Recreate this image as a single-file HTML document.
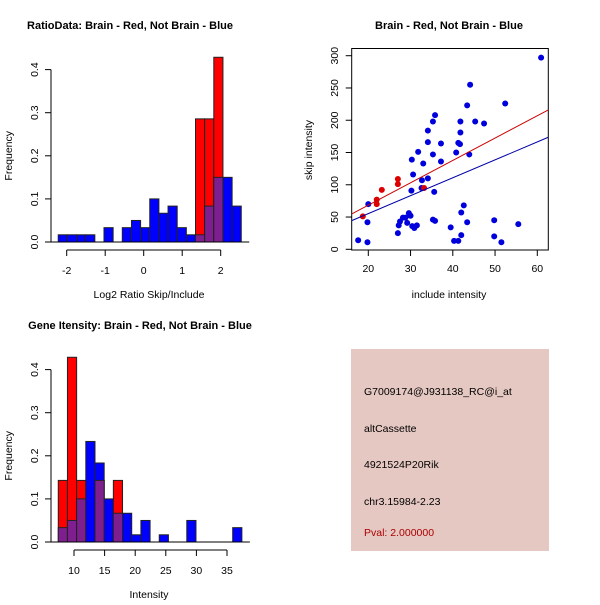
<!DOCTYPE html>
<html><head><meta charset="utf-8"><style>
html,body{margin:0;padding:0;background:#fff}
svg text{font-family:"Liberation Sans",sans-serif}
</style></head><body>
<svg id="c" width="600" height="600" xmlns="http://www.w3.org/2000/svg">
<rect width="600" height="600" fill="#fff"/>
</svg>
<script>
// Panel 1: ratio histogram
const ratioBinStart = -2.22, ratioBinWidth = 0.2377;
const ratioBlue = [0.0167,0.0167,0.0167,0.0167,0,0.0333,0,0.0333,0.05,0.0333,0.1,0.0667,0.0833,0.0333,0.0167,0.0167,0.0833,0.15,0.15,0.0833];
const ratioRed  = [0,0,0,0,0,0,0,0,0,0,0,0,0,0,0,0.2857,0.2857,0.4286,0,0];
const ratioXTicks = [-2,-1,0,1,2];
const freqTicks = [0,0.1,0.2,0.3,0.4];
// Panel 3: intensity histogram
const intBinStart = 7.43, intBinWidth = 1.5;
const intBlue = [0.0333,0.05,0.1,0.2333,0.1833,0.1,0.0667,0.0667,0.0167,0.05,0,0.0167,0,0,0.05,0,0,0,0,0.0333];
const intRed  = [0.1429,0.4286,0.1429,0,0.1429,0,0.1429,0,0,0,0,0,0,0,0,0,0,0,0,0];
const intXTicks = [10,15,20,25,30,35];
// Panel 2: scatter
const blueX = [17.6,19.8,19.8,20,27,27.2,27.5,28.2,28.8,29.2,29.6,30,30.4,30.9,31.5,30.2,30.3,30.6,31.8,33,32.6,32.7,34.1,34.1,34.1,35.3,35.3,35.6,35.8,35.3,35.8,37.2,37.2,39.5,40.3,41.3,40.8,41.3,41.7,41.8,41.8,42,42,42.6,43.4,44.1,43.4,43.9,45.3,47.4,49.8,49.8,51.5,52.4,55.5,60.9];
const blueY = [14,11,42,70,25,37,43,49,49,41,56,52,36,33,37,91,139,116,151,133,95,107,110,184,166,147,198,89,208,46,44,164,136,34,13,13,150,165,163,198,181,57,22,68,42,255,223,147,198,195,45,20,11,226,39,297];
const redX = [18.7,22,22,23.2,27,27,33.2];
const redY = [51,77,70,92,109,101,95];
const redFit = [-0.83,3.464];   // intercept, slope
const blueFit = [-0.18,2.776];
const scXTicks = [20,30,40,50,60];
const scYTicks = [0,50,100,150,200,250,300];
const infoLines = ["G7009174@J931138_RC@i_at","altCassette","4921524P20Rik","chr3.15984-2.23"];
const pvalText = "Pval: 2.000000";

const svg = document.getElementById('c');
const NS = 'http://www.w3.org/2000/svg';
const FS = 10.5;
function mk(tag, attrs, parent){const e=document.createElementNS(NS,tag);for(const k in attrs)e.setAttribute(k,attrs[k]);(parent||svg).appendChild(e);return e;}
function txt(s,attrs,parent){const e=mk('text',attrs,parent);e.textContent=s;return e;}

function hist(g, binStart, binW, blue, red, xTicks, xmap, ymap, xlab, title, titleX){
  const y0 = ymap(0);
  for(let i=0;i<blue.length;i++){
    const x1=xmap(binStart+i*binW), x2=xmap(binStart+(i+1)*binW);
    const b=blue[i], r=red[i];
    if(r>0){const e=mk('rect',{x:x1,y:ymap(r),width:x2-x1,height:y0-ymap(r),fill:'#ff0000',stroke:'#222','stroke-width':1},g);
      
      }
    if(b>0){
      if(b>(r||0)){const e=mk('rect',{x:x1,y:ymap(b),width:x2-x1,height:y0-ymap(b),fill:'#0000ff',stroke:'#222','stroke-width':1},g);
        
        }
      if(r>0){const m=Math.min(b,r);const e=mk('rect',{x:x1,y:ymap(m),width:x2-x1,height:y0-ymap(m),fill:'#7f1f8f',stroke:'#222','stroke-width':1},g);
        
        }
    }
  }
  const ya=mk('g',{},g);
  
  
  mk('line',{x1:51,x2:51,y1:ymap(0),y2:ymap(0.4),stroke:'#000'},ya);
  freqTicks.forEach(t=>{mk('line',{x1:45,x2:51,y1:ymap(t),y2:ymap(t),stroke:'#000'},ya);
    txt(t.toFixed(1),{x:38,y:ymap(t),'font-size':FS,'text-anchor':'middle',transform:`rotate(-90 38 ${ymap(t)})`},ya);});
  const yt=txt('Frequency',{x:12,y:(ymap(0)+ymap(0.4))/2,'font-size':FS,'text-anchor':'middle',transform:`rotate(-90 12 ${(ymap(0)+ymap(0.4))/2})`},g);
  
  
  mk('line',{x1:xmap(binStart)-8,x2:xmap(binStart+blue.length*binW)+8,y1:y0,y2:y0,stroke:'#000'},g);
  const xa=mk('g',{},g);
  
  
  const ay=y0+8;
  mk('line',{x1:xmap(xTicks[0]),x2:xmap(xTicks[xTicks.length-1]),y1:ay,y2:ay,stroke:'#000'},xa);
  xTicks.forEach(t=>{mk('line',{x1:xmap(t),x2:xmap(t),y1:ay,y2:ay+6,stroke:'#000'},xa);
    txt(String(t),{x:xmap(t),y:ay+24,'font-size':FS,'text-anchor':'middle'},xa);});
  const xt=txt(xlab,{x:149,y:y0+56,'font-size':FS,'text-anchor':'middle'},g);
  
  
  const tt=txt(title,{x:titleX,y:y0-213,'font-size':11,'font-weight':'bold','text-anchor':'middle'},g);
  
  
}

const g1=mk('g',{});


hist(g1, ratioBinStart, ratioBinWidth, ratioBlue, ratioRed, ratioXTicks,
  v=>66.7+(v+2)*38.5, f=>242-f*431, 'Log2 Ratio Skip/Include', 'RatioData: Brain - Red, Not Brain - Blue', 130);

const g3=mk('g',{});


hist(g3, intBinStart, intBinWidth, intBlue, intRed, intXTicks,
  v=>74+(v-10)*6.12, f=>542-f*431, 'Intensity', 'Gene Itensity: Brain - Red, Not Brain - Blue', 140);

const g2=mk('g',{});


const sx=v=>368.3+(v-20)*4.225, sy=v=>249.3-v*0.6453;
const L=351.7,R=548.3,T=48.5,B=250;
mk('rect',{x:L,y:T,width:R-L,height:B-T,fill:'none',stroke:'#000'},g2);
const xl0=(L-368.3)/4.225+20, xl1=(R-368.3)/4.225+20;
const cp=mk('clipPath',{id:'clp'},g2);mk('rect',{x:L,y:T,width:R-L,height:B-T},cp);
blueX.forEach((x,i)=>{const e=mk('circle',{cx:sx(x),cy:sy(blueY[i]),r:3,fill:'#0000dd'},g2);
  
  });
redX.forEach((x,i)=>{const e=mk('circle',{cx:sx(x),cy:sy(redY[i]),r:3,fill:'#dd0000'},g2);
  
  });
const rl=mk('line',{x1:L,x2:R,y1:sy(redFit[0]+redFit[1]*xl0),y2:sy(redFit[0]+redFit[1]*xl1),stroke:'#cc0000','clip-path':'url(#clp)'},g2);


const bl=mk('line',{x1:L,x2:R,y1:sy(blueFit[0]+blueFit[1]*xl0),y2:sy(blueFit[0]+blueFit[1]*xl1),stroke:'#0000aa','clip-path':'url(#clp)'},g2);


const sxa=mk('g',{},g2);


scXTicks.forEach(t=>{mk('line',{x1:sx(t),x2:sx(t),y1:B,y2:B+6,stroke:'#000'},sxa);
  txt(String(t),{x:sx(t),y:B+22,'font-size':FS,'text-anchor':'middle'},sxa);});
const sya=mk('g',{},g2);


scYTicks.forEach(t=>{mk('line',{x1:L-6,x2:L,y1:sy(t),y2:sy(t),stroke:'#000'},sya);
  txt(String(t),{x:338,y:sy(t),'font-size':FS,'text-anchor':'middle',transform:`rotate(-90 338 ${sy(t)})`},sya);});
const sxt=txt('include intensity',{x:449,y:298,'font-size':FS,'text-anchor':'middle'},g2);


const syt=txt('skip intensity',{x:312,y:150,'font-size':FS,'text-anchor':'middle',transform:'rotate(-90 312 150)'},g2);


const st=txt('Brain - Red, Not Brain - Blue',{x:449,y:29,'font-size':11,'font-weight':'bold','text-anchor':'middle'},g2);



const g4=mk('g',{});


mk('rect',{x:351,y:349,width:198,height:202,fill:'#e6c8c2'},g4);
const ys=[395,432,468,505];
infoLines.forEach((s,i)=>{const e=txt(s,{x:364,y:ys[i],'font-size':FS,fill:'#000'},g4);
  
  });
const pv=txt(pvalText,{x:364,y:536,'font-size':FS,fill:'#aa0000'},g4);


</script>
</body></html>
